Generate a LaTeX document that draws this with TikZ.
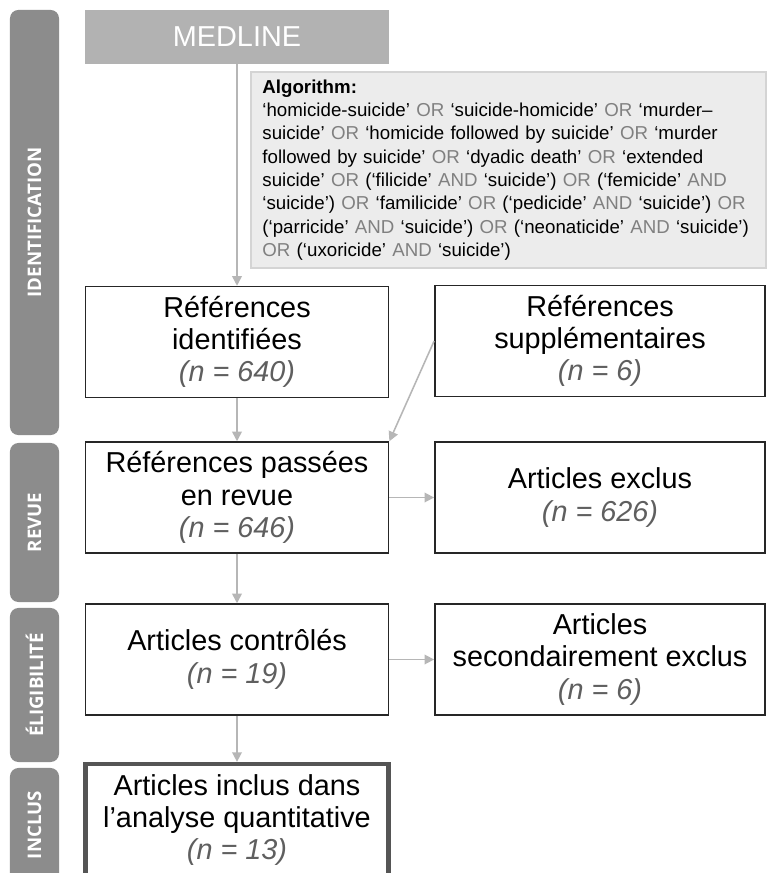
\documentclass[tikz,border=0pt]{standalone}
\usepackage{fontspec}
\setmainfont{Liberation Sans}
\newfontfamily\sidefont{Open Sans}
\usetikzlibrary{positioning,arrows.meta}
\definecolor{sidegray}{RGB}{140,140,140}
\definecolor{srcgray}{RGB}{178,178,178}
\definecolor{algofill}{RGB}{236,236,236}
\definecolor{algoline}{RGB}{212,212,212}
\definecolor{arrowgray}{RGB}{182,182,182}
\definecolor{kwgray}{RGB}{128,128,128}
\definecolor{ngray}{RGB}{95,95,95}
\definecolor{inclline}{RGB}{85,85,85}
\newcommand{\kwOR}{\textcolor{kwgray}{OR}}
\newcommand{\kwAND}{\textcolor{kwgray}{AND}}
\newcommand{\ncount}[1]{\textcolor{ngray}{\itshape (n = #1)}}
\tikzset{
  flowarrow/.style={-{Triangle[length=2.4mm, width=2.4mm]}, draw=arrowgray, line width=1.1pt},
  phase/.style={fill=sidegray, rounded corners=6pt, rotate=90, minimum height=1.225cm, text=white, font=\sidefont\bfseries\fontsize{13.3}{15}\selectfont},
  srcbox/.style={fill=srcgray, minimum width=7.575cm, minimum height=1.35cm, text=white, font=\fontsize{20.5}{24}\selectfont},
  algobox/.style={draw=algoline, fill=algofill, line width=1pt, text width=12.3cm, minimum height=4.9cm, inner xsep=0.29cm, align=left, font=\fontsize{13.3}{16.6}\selectfont},
  stepbox/.style={draw=black!85, line width=1.2pt, minimum width=7.575cm, minimum height=2.77cm, align=center, font=\fontsize{20.5}{23}\selectfont},
  sidebox/.style={stepbox, minimum width=8.25cm},
  finalbox/.style={stepbox, draw=inclline, line width=3pt, minimum height=2.8cm}
}
\begin{document}
\begin{tikzpicture}[x=0.025cm, y=-0.025cm]
  \clip (0,0) rectangle (768,873);
  \fill[white] (0,0) rectangle (768,873);
  % phases
  \node[phase, minimum width=10.625cm] (idband) at (34.5,222.5) {IDENTIFICATION};
  \node[phase, minimum width=3.975cm] (revband) at (34.5,522.5) {REVUE};
  \node[phase, minimum width=3.85cm] (eligband) at (34.5,685) {ÉLIGIBILITÉ};
  \node[phase, minimum width=2.85cm] (inclband) at (34.5,825) {INCLUS};
  % source and search
  \node[srcbox] (medline) at (237,37) {MEDLINE};
  \node[algobox] (algo) at (508.5,170) {\textbf{Algorithm:}\\
    ‘homicide-suicide’ \kwOR{} ‘suicide-homicide’ \kwOR{} ‘murder–\\
    suicide’ \kwOR{} ‘homicide followed by suicide’ \kwOR{} ‘murder\\
    followed by suicide’ \kwOR{} ‘dyadic death’ \kwOR{} ‘extended\\
    suicide’ \kwOR{} (‘filicide’ \kwAND{} ‘suicide’) \kwOR{} (‘femicide’ \kwAND\\
    ‘suicide’) \kwOR{} ‘familicide’ \kwOR{} (‘pedicide’ \kwAND{} ‘suicide’) \kwOR\\
    (‘parricide’ \kwAND{} ‘suicide’) \kwOR{} (‘neonaticide’ \kwAND{} ‘suicide’)\\
    \kwOR{} (‘uxoricide’ \kwAND{} ‘suicide’)};
  % flow
  \node[stepbox] (ident) at (237,342) {Références\\ identifiées\\ \ncount{640}};
  \node[sidebox] (suppl) at (600,341) {Références\\ supplémentaires\\ \ncount{6}};
  \node[stepbox] (revue) at (237,497.5) {Références passées\\ en revue\\ \ncount{646}};
  \node[sidebox] (exclus) at (600,497.5) {Articles exclus\\ \ncount{626}};
  \node[stepbox] (controle) at (237,659.5) {Articles contrôlés\\ \ncount{19}};
  \node[sidebox] (secexcl) at (600,659.5) {Articles\\ secondairement exclus\\ \ncount{6}};
  \node[finalbox] (inclus) at (237,820) {Articles inclus dans\\ l’analyse quantitative\\ \ncount{13}};
  \draw[flowarrow] (medline) -- (ident);
  \draw[flowarrow] (ident) -- (revue);
  \draw[flowarrow] (suppl.west) -- (revue.north east);
  \draw[flowarrow] (revue) -- (exclus);
  \draw[flowarrow] (revue) -- (controle);
  \draw[flowarrow] (controle) -- (secexcl);
  \draw[flowarrow] (controle) -- (inclus);
\end{tikzpicture}
\end{document}
